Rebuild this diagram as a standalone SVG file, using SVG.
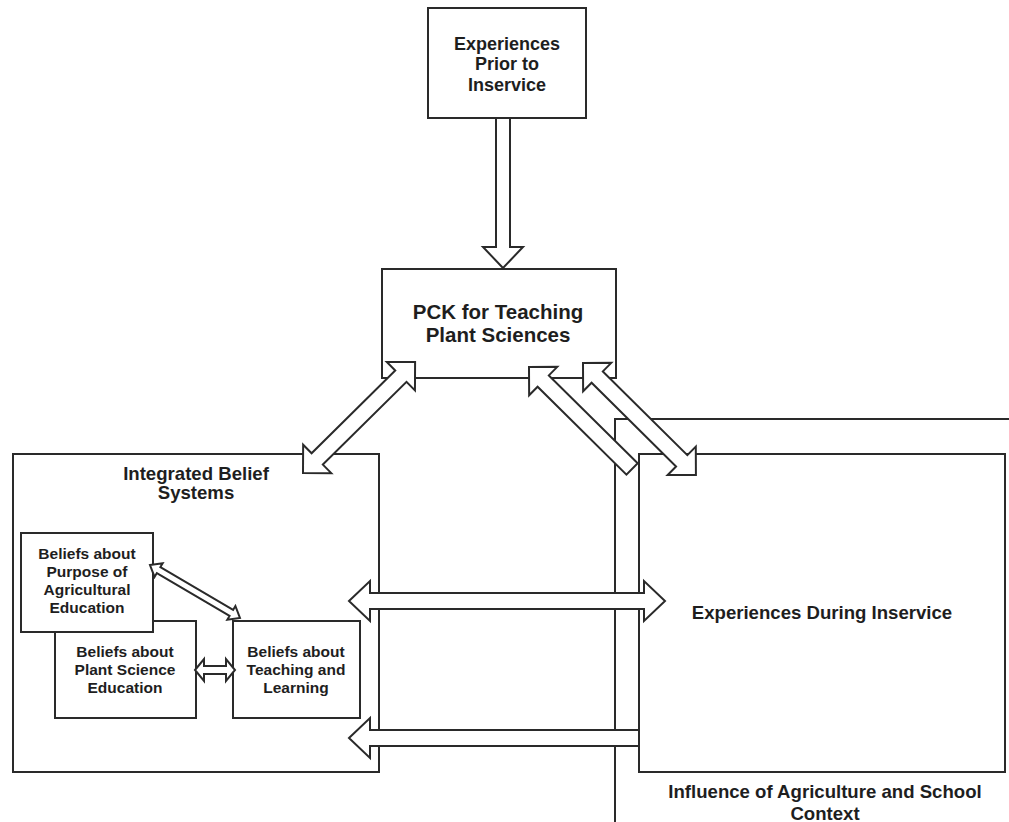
<svg xmlns="http://www.w3.org/2000/svg" width="1009" height="822" viewBox="0 0 1009 822">
<style>
.box{fill:#fff;stroke:#2a2a2a;stroke-width:2}
.arr{fill:#fff;stroke:#2a2a2a;stroke-width:2;stroke-linejoin:miter}
.t{font-family:"Liberation Sans",Arial,sans-serif;font-weight:bold;fill:#1e1e1e;text-anchor:middle}
.t18{font-size:18px}
.t185{font-size:18.6px}
.t20{font-size:20.5px}
.t15{font-size:15.5px}
</style>
<rect width="1009" height="822" fill="#fff"/>
<g id="influence">
<path class="box" d="M615,823 V419 H1010"/>
<text class="t t185" x="825" y="798">Influence of Agriculture and School</text>
<text class="t t185" x="825" y="820">Context</text>
</g>
<g id="experiences-during">
<rect class="box" x="639" y="454" width="366" height="318"/>
<text class="t t185" x="822" y="619">Experiences During Inservice</text>
</g>
<g id="experiences-prior">
<rect class="box" x="428" y="8" width="158" height="110"/>
<text class="t t18" x="507" y="50">Experiences</text>
<text class="t t18" x="507" y="70">Prior to</text>
<text class="t t18" x="507" y="91">Inservice</text>
</g>
<g id="pck">
<rect class="box" x="382" y="269" width="234" height="109"/>
<text class="t t20" x="498" y="319">PCK for Teaching</text>
<text class="t t20" x="498" y="342">Plant Sciences</text>
</g>
<g id="integrated-belief">
<rect class="box" x="13" y="454" width="366" height="318"/>
<text class="t t185" x="196" y="480">Integrated Belief</text>
<text class="t t185" x="196" y="499">Systems</text>
</g>
<g id="beliefs-plant">
<rect class="box" x="55" y="621" width="141" height="97"/>
<text class="t t15" x="125" y="657">Beliefs about</text>
<text class="t t15" x="125" y="675">Plant Science</text>
<text class="t t15" x="125" y="693">Education</text>
</g>
<g id="beliefs-purpose">
<rect class="box" x="21" y="533" width="132" height="99"/>
<text class="t t15" x="87" y="559">Beliefs about</text>
<text class="t t15" x="87" y="577">Purpose of</text>
<text class="t t15" x="87" y="595">Agricultural</text>
<text class="t t15" x="87" y="613">Education</text>
</g>
<g id="beliefs-teaching">
<rect class="box" x="233" y="621" width="127" height="97"/>
<text class="t t15" x="296" y="657">Beliefs about</text>
<text class="t t15" x="296" y="675">Teaching and</text>
<text class="t t15" x="296" y="693">Learning</text>
</g>
<g id="connectors">
<polygon class="arr" transform="translate(503,268) rotate(-90)" points="0,0 21,-20 21,-7 150,-7 150,7 21,7 21,20"/>
<polygon class="arr" transform="translate(303,473) rotate(-44.7)" points="0,0 20,-20 20,-8 137.7,-8 137.7,-20 157.7,0 137.7,20 137.7,8 20,8 20,20"/>
<polygon class="arr" transform="translate(529,367) rotate(44.7)" points="0,0 20,-20 20,-8 145,-8 145,8 20,8 20,20"/>
<polygon class="arr" transform="translate(583,363) rotate(44.75)" points="0,0 20,-20 20,-8 139,-8 139,-20 159,0 139,20 139,8 20,8 20,20"/>
<polygon class="arr" transform="translate(349,601)" points="0,0 21,-20 21,-8 295,-8 295,-20 316,0 295,20 295,8 21,8 21,20"/>
<polygon class="arr" transform="translate(349,738)" points="0,0 21,-20 21,-8 290,-8 290,8 21,8 21,20"/>
<polygon class="arr" transform="translate(195,670)" points="0,0 9,-11 9,-4 31,-4 31,-11 40,0 31,11 31,4 9,4 9,11"/>
<polygon class="arr" transform="translate(150,565) rotate(30.5)" points="0,0 10,-8 10,-3.5 94.4,-3.5 94.4,-8 104.4,0 94.4,8 94.4,3.5 10,3.5 10,8"/>
</g>
</svg>
